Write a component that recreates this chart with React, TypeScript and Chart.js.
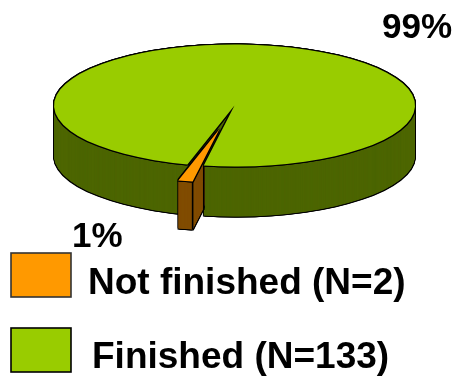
import React, { useEffect, useRef } from "react";
import { Chart, registerables } from "chart.js";

Chart.register(...registerables);

const categories = ["Not finished (N=2)", "Finished (N=133)"];
const counts = [2, 133];
const percentLabels = ["1%", "99%"];
const topColors = ["#FF9900", "#99CC00"];
const wallColors = ["#804D00", "#4D6600"];

const CENTER_X = 234.5;
const CENTER_Y = 105.5;
const SQUASH = 0.338;
const DEPTH = 50;
const SLICE_DEPTH = 48;
const EXPLODE = 74;
const SLICE_RADIUS = 158;
const SLICE_SHIFT_X = 1;
const SLICE_SHIFT_Y = -1;
const ROTATION = 189.8;
const FONT = 'bold 37px "Liberation Sans", Arial, sans-serif';
const PCT_FONT = 'bold 35px "Liberation Sans", Arial, sans-serif';

const ring = [[-1, 0], [1, 0], [0, -1], [0, 1], [-1, -1], [1, 1], [-1, 1], [1, -1]];

function fillArc(ctx: any, el: any, tx: number, ty: number, color: string, radius?: number) {
  const savedOptions = el.options;
  const savedRadius = el.outerRadius;
  ctx.save();
  ctx.translate(tx, ty);
  ctx.scale(1, SQUASH);
  ctx.translate(-el.x, -el.y);
  el.options = { ...savedOptions, backgroundColor: color, borderWidth: 0 };
  if (radius) el.outerRadius = radius;
  el.draw(ctx);
  el.options = savedOptions;
  el.outerRadius = savedRadius;
  ctx.restore();
}

function extrude(ctx: any, el: any, x: number, y: number, wall: string, depth: number, radius?: number) {
  for (let d = depth; d >= 0; d -= 1) {
    for (const [ox, oy] of ring) fillArc(ctx, el, x + ox, y + d + oy, "#000000", radius);
  }
  for (let d = depth; d >= 0; d -= 0.25) fillArc(ctx, el, x, y + d, wall, radius);
}

function face(ctx: any, el: any, x: number, y: number, top: string, radius?: number) {
  for (const [ox, oy] of ring) fillArc(ctx, el, x + ox, y + oy, "#000000", radius);
  fillArc(ctx, el, x, y, top, radius);
}

const pie3d = {
  id: "pie3d",
  beforeDatasetsDraw(chart: any) {
    const ctx = chart.ctx;
    const [slice, rest] = chart.getDatasetMeta(0).data;
    const mid = (slice.startAngle + slice.endAngle) / 2;
    const sx = CENTER_X + Math.cos(mid) * EXPLODE + SLICE_SHIFT_X;
    const sy = CENTER_Y + Math.sin(mid) * EXPLODE * SQUASH + SLICE_SHIFT_Y;

    const notchX = CENTER_X + Math.cos(slice.startAngle) * rest.outerRadius;
    const notchY = CENTER_Y + Math.sin(slice.startAngle) * rest.outerRadius * SQUASH;
    const cornerX = sx + Math.cos(slice.startAngle) * SLICE_RADIUS;
    const cornerY = sy + Math.sin(slice.startAngle) * SLICE_RADIUS * SQUASH;

    extrude(ctx, rest, CENTER_X, CENTER_Y, wallColors[1], DEPTH);

    ctx.save();
    ctx.beginPath();
    ctx.rect(0, 0, notchX + 0.5, chart.height);
    ctx.clip();
    extrude(ctx, slice, sx, sy, wallColors[0], SLICE_DEPTH, SLICE_RADIUS);
    ctx.restore();

    ctx.save();
    ctx.strokeStyle = "#000000";
    ctx.lineWidth = 1.6;
    ctx.beginPath();
    ctx.moveTo(cornerX, cornerY);
    ctx.lineTo(cornerX, cornerY + SLICE_DEPTH);
    ctx.moveTo(notchX, notchY);
    ctx.lineTo(notchX, cornerY + SLICE_DEPTH - (notchX - cornerX) * 1.75);
    ctx.stroke();
    ctx.restore();

    face(ctx, rest, CENTER_X, CENTER_Y, topColors[1]);
    face(ctx, slice, sx, sy, topColors[0], SLICE_RADIUS);
    return false;
  },
  afterDraw(chart: any) {
    const ctx = chart.ctx;
    ctx.save();
    ctx.fillStyle = "#000000";
    ctx.textBaseline = "alphabetic";
    ctx.textAlign = "left";
    ctx.font = PCT_FONT;
    ctx.fillText(percentLabels[1], 382, 38);
    ctx.fillText(percentLabels[0], 72, 247);

    const rows = [
      { box: 253, text: 294, x: 88 },
      { box: 328, text: 368, x: 92 },
    ];
    rows.forEach((row, i) => {
      ctx.fillStyle = topColors[i];
      ctx.fillRect(11, row.box, 60, 44);
      ctx.strokeStyle = i === 0 ? "#333333" : "#000000";
      ctx.lineWidth = 1.6;
      ctx.strokeRect(11, row.box, 60, 44);
      ctx.fillStyle = "#000000";
      ctx.font = FONT;
      ctx.fillText(categories[i], row.x, row.text);
    });
    ctx.restore();
  },
};

export default function App() {
  const ref = useRef<HTMLCanvasElement | null>(null);
  useEffect(() => {
    if (!ref.current) return;
    const chart = new Chart(ref.current, {
      type: "pie",
      data: {
        labels: categories,
        datasets: [{ data: counts, backgroundColor: topColors, borderWidth: 0 }],
      },
      options: {
        responsive: false,
        animation: false,
        rotation: ROTATION,
        layout: { padding: { left: 54, right: 39, top: 0, bottom: 0 } },
        plugins: { legend: { display: false }, tooltip: { enabled: false } },
      },
      plugins: [pie3d],
    } as any);
    return () => chart.destroy();
  }, []);
  return (
    <div style={{ position: "absolute", left: 0, top: 0, width: 454, height: 376, background: "#fff" }}>
      <canvas ref={ref} width={454} height={376} style={{ display: "block" }} />
    </div>
  );
}
